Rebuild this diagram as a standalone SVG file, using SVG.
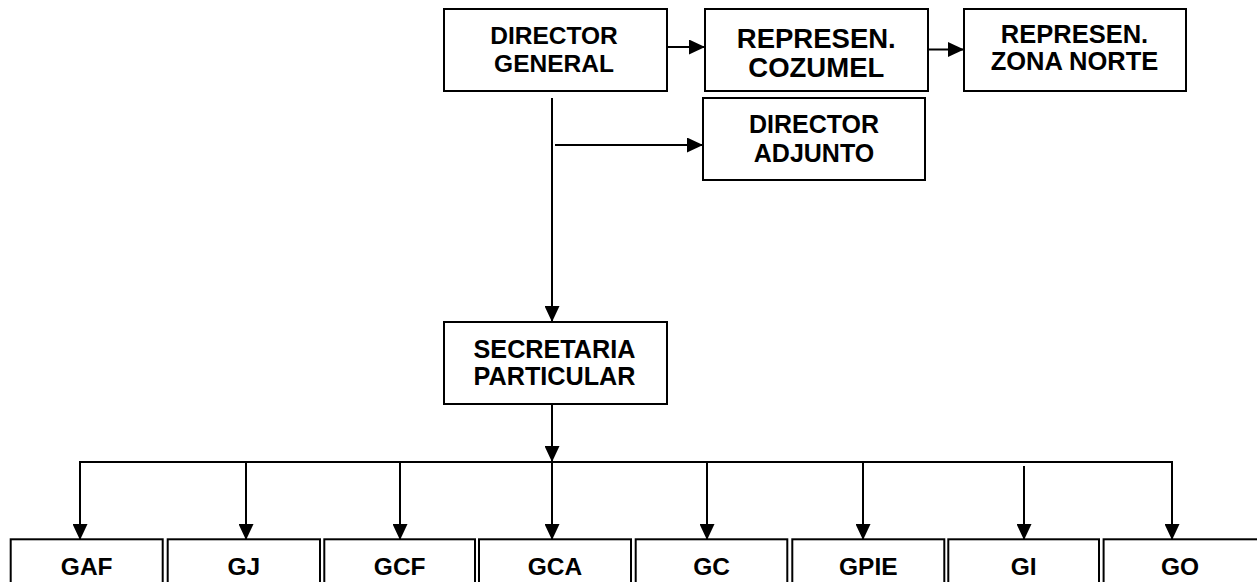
<svg xmlns="http://www.w3.org/2000/svg" width="1257" height="582" viewBox="0 0 1257 582">
<defs>
<style>
.box{fill:#fff;stroke:#000;stroke-width:2}
.ln{fill:none;stroke:#000;stroke-width:2}
text{font-family:"Liberation Sans",Arial,sans-serif;font-weight:bold;fill:#000;text-anchor:middle}
</style>
<marker id="ah" markerUnits="userSpaceOnUse" markerWidth="16" markerHeight="15" refX="16" refY="7.5" orient="auto" viewBox="0 0 16 15">
<path d="M0,0 L16,7.5 L0,15 z" fill="#000"/>
</marker>
</defs>
<rect width="1257" height="582" fill="#fff"/>
<g id="connectors">
<line class="ln" x1="667" y1="47" x2="705" y2="47" marker-end="url(#ah)"/>
<line class="ln" x1="928" y1="49.5" x2="964" y2="49.5" marker-end="url(#ah)"/>
<line class="ln" x1="552" y1="98" x2="552" y2="322" marker-end="url(#ah)"/>
<line class="ln" x1="555" y1="145" x2="703" y2="145" marker-end="url(#ah)"/>
<line class="ln" x1="552" y1="404" x2="552" y2="462" marker-end="url(#ah)"/>
<polyline class="ln" points="80,539 80,462 1172,462 1172,539"/>
<line class="ln" x1="80" y1="462" x2="80" y2="540" marker-end="url(#ah)"/>
<line class="ln" x1="246" y1="462" x2="246" y2="540" marker-end="url(#ah)"/>
<line class="ln" x1="400" y1="462" x2="400" y2="540" marker-end="url(#ah)"/>
<line class="ln" x1="552" y1="462" x2="552" y2="540" marker-end="url(#ah)"/>
<line class="ln" x1="707" y1="462" x2="707" y2="540" marker-end="url(#ah)"/>
<line class="ln" x1="863" y1="462" x2="863" y2="540" marker-end="url(#ah)"/>
<line class="ln" x1="1024" y1="466" x2="1024" y2="540" marker-end="url(#ah)"/>
<line class="ln" x1="1172" y1="462" x2="1172" y2="540" marker-end="url(#ah)"/>
</g>
<g id="director-general">
<rect class="box" x="444" y="9" width="223" height="82"/>
<text x="554" y="44.3" font-size="24.5">DIRECTOR</text>
<text x="554" y="71.7" font-size="24.5">GENERAL</text>
</g>
<g id="represen-cozumel">
<rect class="box" x="705" y="9" width="223" height="82"/>
<text x="816.3" y="47.7" font-size="27.5">REPRESEN.</text>
<text x="816.3" y="76.7" font-size="27.5">COZUMEL</text>
</g>
<g id="represen-zona-norte">
<rect class="box" x="964" y="9" width="222" height="82"/>
<text x="1074.5" y="43.3" font-size="25.5">REPRESEN.</text>
<text x="1074.5" y="70" font-size="25.5">ZONA NORTE</text>
</g>
<g id="director-adjunto">
<rect class="box" x="703" y="98" width="222" height="82"/>
<text x="814" y="133.3" font-size="25">DIRECTOR</text>
<text x="814" y="161.7" font-size="25">ADJUNTO</text>
</g>
<g id="secretaria-particular">
<rect class="box" x="444" y="322" width="223" height="82"/>
<text x="554.5" y="358.3" font-size="25.2">SECRETARIA</text>
<text x="554.5" y="385" font-size="25.2">PARTICULAR</text>
</g>
<g id="gaf"><rect class="box" x="10.7" y="539.3" width="152" height="70"/><text x="86.7" y="575" font-size="24.5">GAF</text></g>
<g id="gj"><rect class="box" x="167.7" y="539.3" width="152.3" height="70"/><text x="243.8" y="575" font-size="24.5">GJ</text></g>
<g id="gcf"><rect class="box" x="324.3" y="539.3" width="150.7" height="70"/><text x="399.7" y="575" font-size="24.5">GCF</text></g>
<g id="gca"><rect class="box" x="479" y="539.3" width="152" height="70"/><text x="555" y="575" font-size="24.5">GCA</text></g>
<g id="gc"><rect class="box" x="635.7" y="539.3" width="151.6" height="70"/><text x="711.5" y="575" font-size="24.5">GC</text></g>
<g id="gpie"><rect class="box" x="792.3" y="539.3" width="152" height="70"/><text x="868.3" y="575" font-size="24.5">GPIE</text></g>
<g id="gi"><rect class="box" x="948.3" y="539.3" width="150.7" height="70"/><text x="1023.7" y="575" font-size="24.5">GI</text></g>
<g id="go"><rect class="box" x="1103.6" y="539.3" width="156" height="70"/><text x="1180" y="575" font-size="24.5">GO</text></g>
</svg>
